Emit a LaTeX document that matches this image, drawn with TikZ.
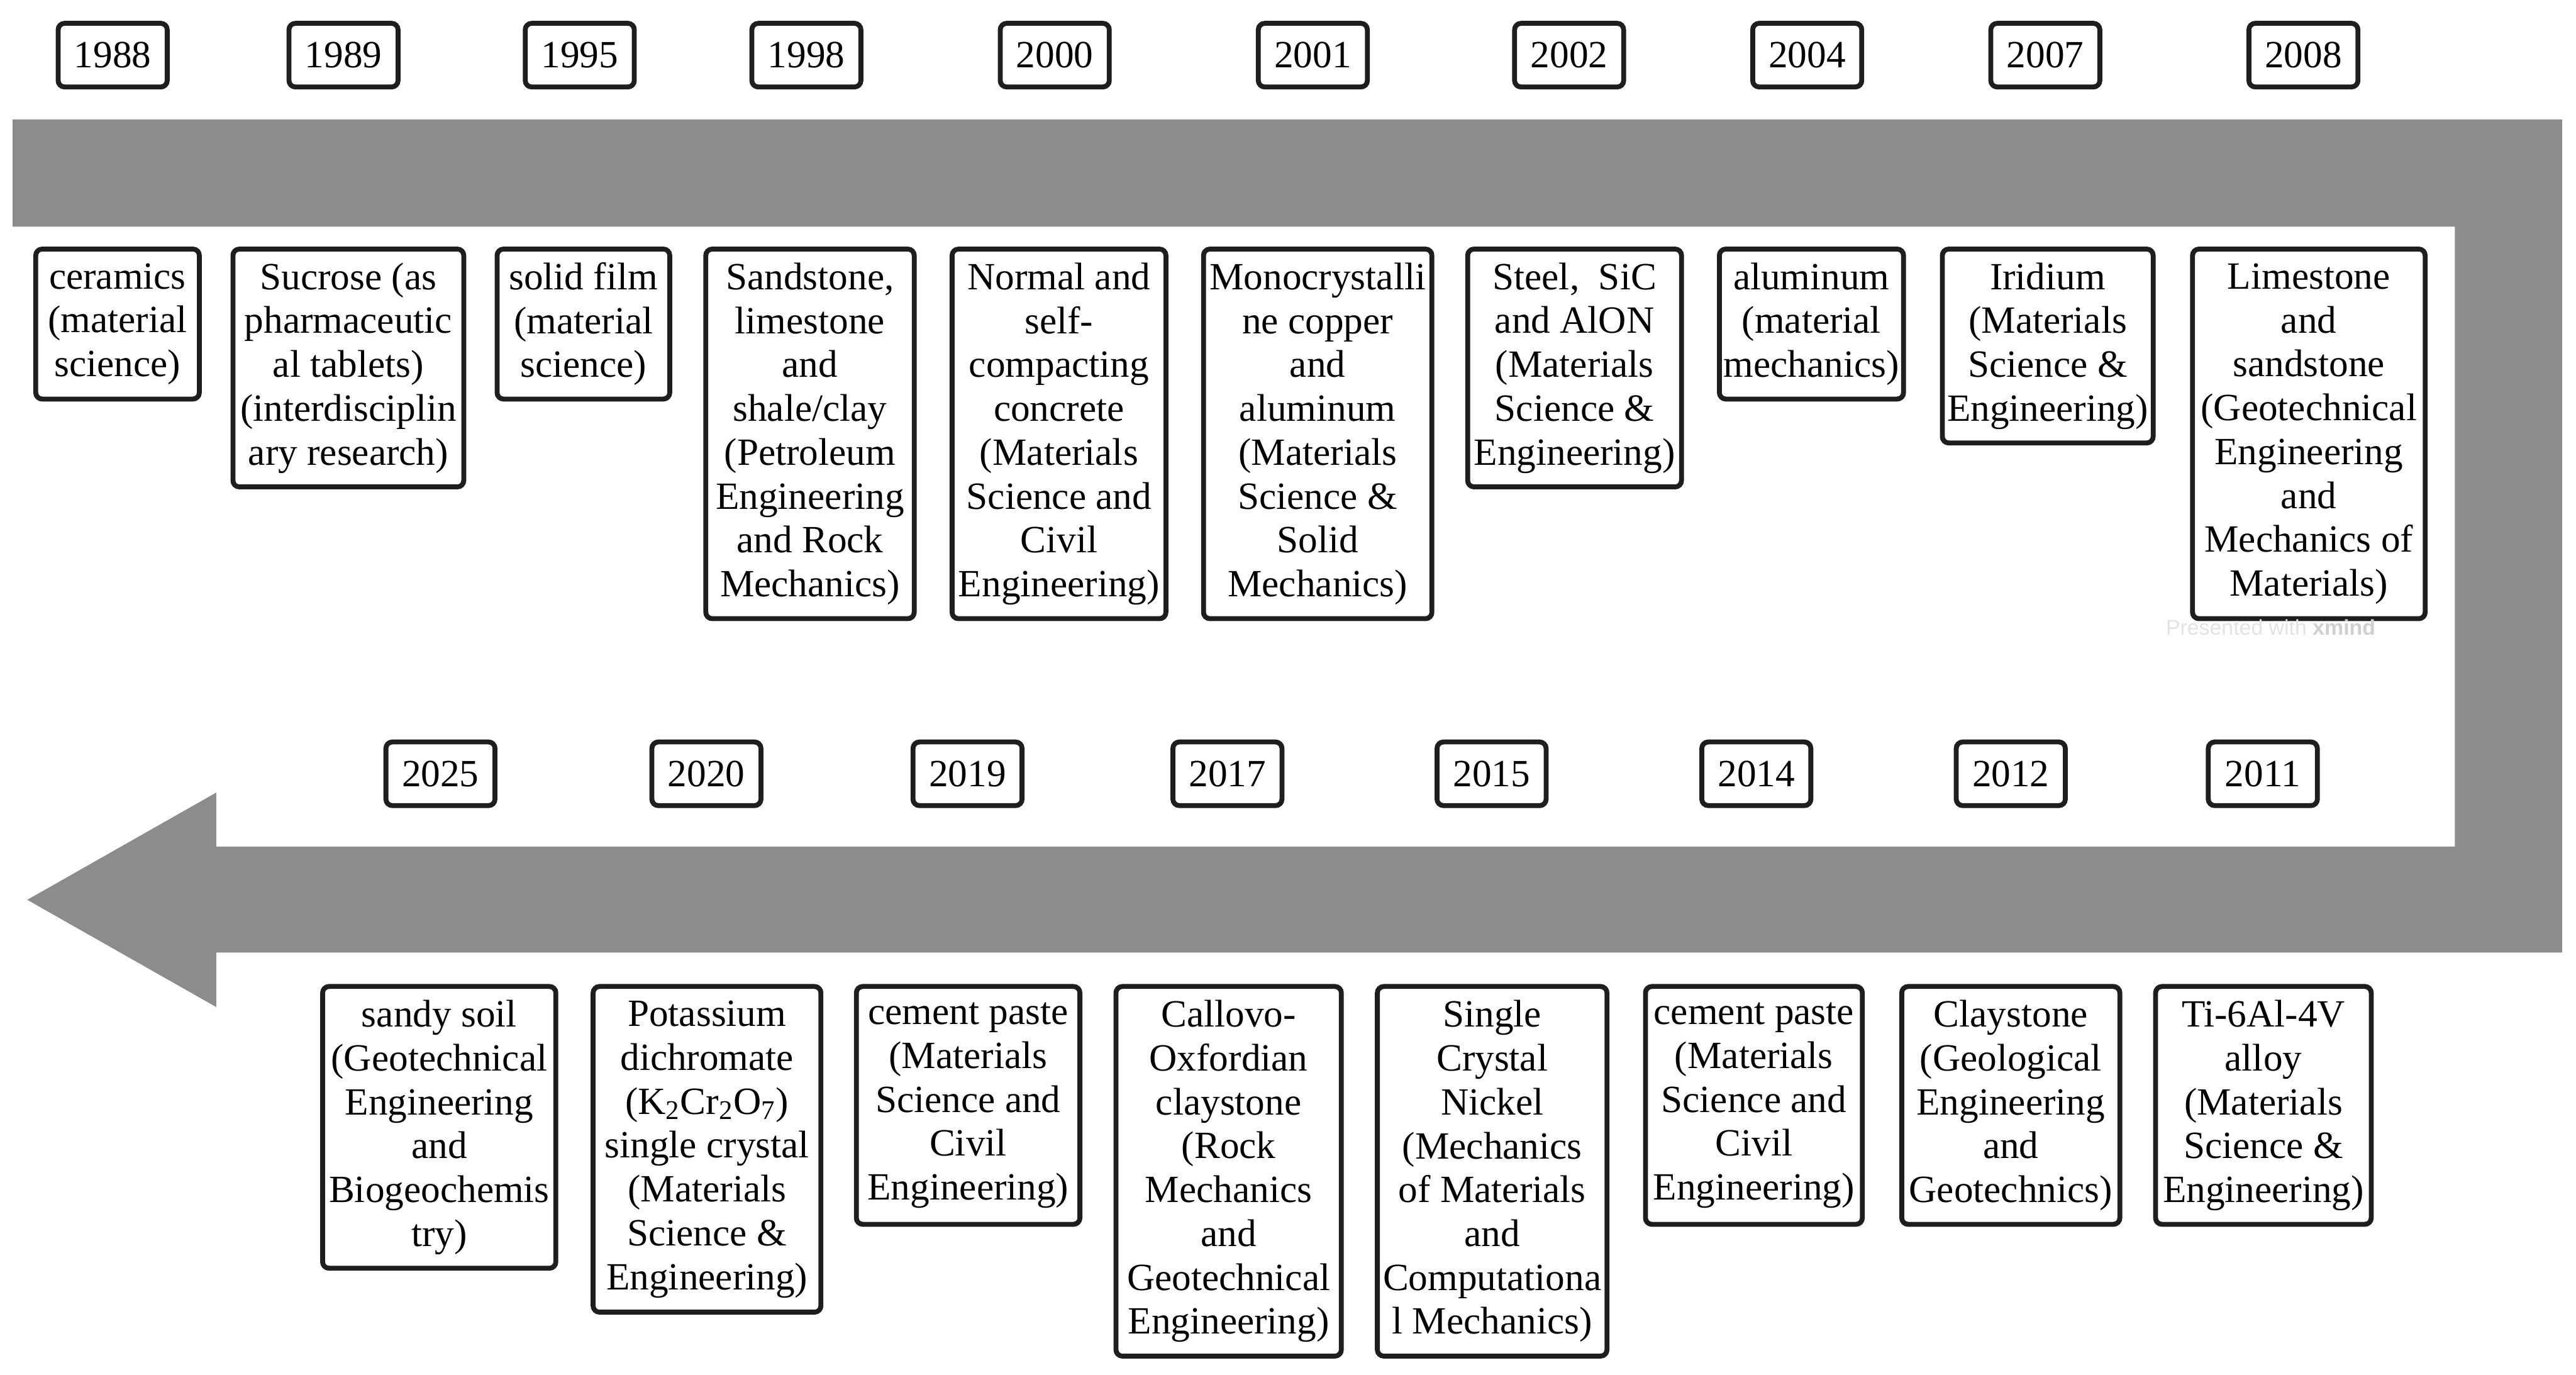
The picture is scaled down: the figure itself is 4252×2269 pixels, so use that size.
\documentclass[tikz,border=0pt]{standalone}
\usepackage{fontspec}
\setmainfont{Liberation Serif}
\setsansfont{Liberation Sans}
\usepackage{xcolor}
\usepackage{tikz}
\definecolor{bandgray}{HTML}{8C8C8C}
\definecolor{boxline}{HTML}{1E1E1E}

\begin{document}
\begin{tikzpicture}[x=0.1mm, y=-0.1mm,
    yearbox/.style={draw=boxline, fill=white, line width=2.3pt, rounded corners=3pt,
      minimum width=18mm, minimum height=10.5mm, inner sep=1pt,
      font=\fontsize{18.1}{20.6}\selectfont},
    descbox/.style={draw=boxline, fill=white, line width=2.3pt, rounded corners=3pt,
      anchor=north, align=center, inner sep=1pt,
      font=\fontsize{18.1}{20.6}\selectfont}]

  \useasboundingbox (0,0) rectangle (4252,2269);

  % ── Grey band, turning back into the arrow ──
  \fill[bandgray] (21,197) -- (4229,197) -- (4229,1572) -- (357,1572)
    -- (357,1662) -- (45,1485) -- (357,1308) -- (357,1397)
    -- (4052,1397) -- (4052,374) -- (21,374) -- cycle;

  % ── Years, upper row ──
  \foreach \yr/\x in {1988/186, 1989/567, 1995/957, 1998/1331, 2000/1741,
                      2001/2167, 2002/2590, 2004/2983, 2007/3376, 2008/3802} {
    \node[yearbox] (y\yr) at (\x,91) {\yr};
  }

  % ── Years, lower row ──
  \foreach \yr/\x in {2025/727, 2020/1166, 2019/1597, 2017/2026,
                      2015/2462, 2014/2899, 2012/3319, 2011/3735} {
    \node[yearbox] (y\yr) at (\x,1277) {\yr};
  }

  % ── Materials, upper row ──
  \foreach \yr/\x/\w/\n/\txt in
      {1988/194/27.0/3/{ceramics\\(material\\science)},
       1989/575/38.1/5/{Sucrose (as\\pharmaceutic\\al tablets)\\(interdisciplin\\ary research)},
       1995/963/28.5/3/{solid film\\(material\\science)},
       1998/1337/34.4/8/{Sandstone,\\limestone\\and\\shale/clay\\(Petroleum\\Engineering\\and Rock\\Mechanics)},
       2000/1748/35.3/8/{Normal and\\self-\\compacting\\concrete\\(Materials\\Science and\\Civil\\Engineering)},
       2001/2175/37.7/8/{Monocrystalli\\ne copper\\and\\aluminum\\(Materials\\Science \&\\Solid\\Mechanics)},
       2002/2599/35.3/5/{Steel,~ SiC\\and AlON\\(Materials\\Science \&\\Engineering)},
       2004/2990/30.4/3/{aluminum\\(material\\mechanics)},
       2007/3380/34.8/4/{Iridium\\(Materials\\Science \&\\Engineering)},
       2008/3811/38.4/8/{Limestone\\and\\sandstone\\(Geotechnical\\Engineering\\and\\Mechanics of\\Materials)}} {
    \node[descbox, minimum width=\w mm, minimum height={\n*7.25mm+3mm}] (d\yr) at (\x,407) {\txt};
  }

  % ── Materials, lower row ──
  \foreach \yr/\x/\w/\n/\txt in
      {2025/725/38.5/6/{sandy soil\\(Geotechnical\\Engineering\\and\\Biogeochemis\\try)},
       2020/1167/37.6/7/{Potassium\\dichromate\\(K\textsubscript{2}Cr\textsubscript{2}O\textsubscript{7})\\single crystal\\(Materials\\Science \&\\Engineering)},
       2019/1598/36.9/5/{cement paste\\(Materials\\Science and\\Civil\\Engineering)},
       2017/2028/37.2/8/{Callovo-\\Oxfordian\\claystone\\(Rock\\Mechanics\\and\\Geotechnical\\Engineering)},
       2015/2463/37.9/8/{Single\\Crystal\\Nickel\\(Mechanics\\of Materials\\and\\Computationa\\l Mechanics)},
       2014/2895/35.8/5/{cement paste\\(Materials\\Science and\\Civil\\Engineering)},
       2012/3319/36.0/5/{Claystone\\(Geological\\Engineering\\and\\Geotechnics)},
       2011/3736/35.6/5/{Ti-6Al-4V\\alloy\\(Materials\\Science \&\\Engineering)}} {
    \node[descbox, minimum width=\w mm, minimum height={\n*7.25mm+3mm}] (d\yr) at (\x,1624) {\txt};
  }

  % watermark
  \node[font=\sffamily\fontsize{10}{12}\selectfont, text=gray!22] (wm) at (3748,1035)
    {Presented with \textcolor{gray!38}{\textbf{xmind}}};
\end{tikzpicture}
\end{document}
